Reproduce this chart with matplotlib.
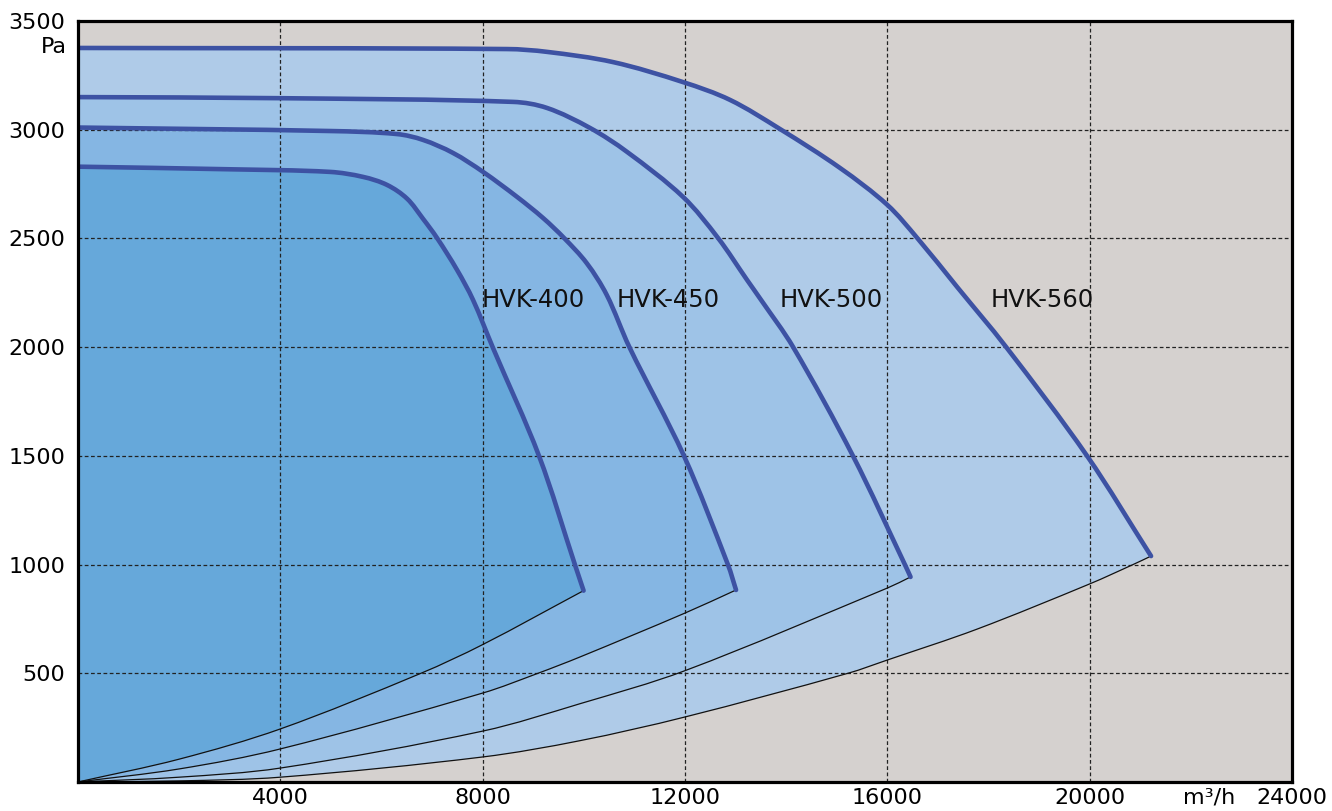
import numpy as np
import matplotlib.pyplot as plt
from matplotlib.path import Path
from matplotlib.patches import PathPatch

# fan curves (airflow m3/h, pressure Pa)
models = ['HVK-400', 'HVK-450', 'HVK-500', 'HVK-560']

q400 = [0, 3000, 4982, 5634, 6109, 6504, 6821, 7097, 7493, 7809, 8204, 9114, 9825, 9994]
p400 = [2830, 2818, 2806, 2783, 2746, 2683, 2590, 2502, 2355, 2217, 1996, 1499, 998, 880]

q450 = [0, 4982, 6306, 6821, 7414, 8007, 8679, 9193, 9608, 10057, 10452, 10900, 11980, 12850, 13008]
p450 = [3010, 2994, 2980, 2953, 2893, 2806, 2691, 2594, 2502, 2386, 2240, 2000, 1499, 998, 883]

q500 = [0, 4000, 8600, 9272, 10122, 10853, 11960, 12652, 13226, 13503, 14135, 15321, 16350, 16458]
p500 = [3150, 3145, 3128, 3100, 3008, 2898, 2691, 2502, 2309, 2217, 2001, 1499, 998, 943]

q560 = [0, 8481, 9272, 10577, 11960, 12890, 13878, 15064, 16000, 16590, 17378, 18346, 19947, 21213]
p560 = [3376, 3371, 3358, 3311, 3219, 3137, 3003, 2824, 2654, 2502, 2277, 2001, 1500, 1039]

# system curves from origin to the fan curve end points
sq400 = [0, 2000, 4000, 6780, 8000, 9994]
sp400 = [0, 105, 244, 500, 632, 880]

sq450 = [0, 2000, 4000, 8000, 9094, 9924, 12000, 13008]
sp450 = [0, 60, 152, 409, 500, 575, 777, 883]

sq500 = [0, 2000, 4000, 8000, 9924, 12000, 16000, 16458]
sp500 = [0, 22, 64, 234, 360, 512, 892, 943]

sq560 = [0, 2000, 4000, 8000, 9924, 12000, 15222, 16000, 17773, 20000, 20857, 21213]
sp560 = [0, 5, 22, 115, 190, 299, 500, 561, 703, 911, 1000, 1039]

label_pos = [(9000, 2217), (11660, 2217), (14890, 2217), (19060, 2217)]

fans = [(q400, p400), (q450, p450), (q500, p500), (q560, p560)]
systems = [(sq400, sp400), (sq450, sp450), (sq500, sp500), (sq560, sp560)]
fills = ['#66a8da', '#85b6e3', '#9ec3e7', '#afcbe8']

# rough pixel scale of the axes, used so the smoothing is not distorted
SX, SY = 1214 / 24000, 761 / 3500


def smooth(q, p):
    # bezier segments through the read points (tangent from neighbours)
    pts = np.column_stack([np.asarray(q, float) * SX, np.asarray(p, float) * SY])
    n = len(pts)
    tang = np.zeros_like(pts)
    for i in range(n):
        if i == 0:
            d = pts[1] - pts[0]
        elif i == n - 1:
            d = pts[-1] - pts[-2]
        else:
            d = pts[i + 1] - pts[i - 1]
        tang[i] = d / np.hypot(*d)
    verts = [pts[0]]
    codes = [Path.MOVETO]
    for i in range(n - 1):
        L = np.hypot(*(pts[i + 1] - pts[i])) / 3
        verts += [pts[i] + tang[i] * L, pts[i + 1] - tang[i + 1] * L, pts[i + 1]]
        codes += [Path.CURVE4] * 3
    verts = np.array(verts) / [SX, SY]
    return verts, codes


fig = plt.figure(figsize=(13.32, 8.11), dpi=100)
ax = fig.add_axes([0.0586, 0.0358, 0.9114, 0.9383])
ax.set_facecolor('#d5d1cf')

# biggest area first so the smaller ones sit on top
for i in [3, 2, 1, 0]:
    fv, fc = smooth(*fans[i])
    sv, sc = smooth(systems[i][0][::-1], systems[i][1][::-1])
    sc = [Path.LINETO] + sc[1:]
    verts = np.vstack([fv, sv, fv[:1]])
    codes = fc + sc + [Path.CLOSEPOLY]
    ax.add_patch(PathPatch(Path(verts, codes), facecolor=fills[i],
                           edgecolor='none', zorder=1))

for i in range(4):
    fv, fc = smooth(*fans[i])
    ax.add_patch(PathPatch(Path(fv, fc), facecolor='none', edgecolor='#3d52a3',
                           linewidth=3.3, zorder=4, capstyle='round', joinstyle='round'))
    sv, sc = smooth(*systems[i])
    ax.add_patch(PathPatch(Path(sv, sc), facecolor='none', edgecolor='#111111',
                           linewidth=0.9, zorder=3))
    ax.text(label_pos[i][0], label_pos[i][1], models[i], fontsize=17.5,
            ha='center', va='center', color='#111111', zorder=5)

ax.set_xlim(0, 24000)
ax.set_ylim(0, 3500)
ax.set_xticks([4000, 8000, 12000, 16000, 20000, 24000])
ax.set_yticks([500, 1000, 1500, 2000, 2500, 3000, 3500])
ax.tick_params(length=0, labelsize=16)
ax.tick_params(axis='y', pad=9)
ax.tick_params(axis='x', pad=4)

ax.set_axisbelow(False)
ax.grid(True, linestyle=(0, (3, 2)), linewidth=0.9, color='#222222')
for gl in ax.get_xgridlines() + ax.get_ygridlines():
    gl.set_zorder(2)

for s in ax.spines.values():
    s.set_linewidth(2.3)
    s.set_zorder(6)

ax.text(22360, -0.0075, 'm³/h', transform=ax.get_xaxis_transform(),
        ha='center', va='top', fontsize=16)
ax.text(-0.0092, 3380, 'Pa', transform=ax.get_yaxis_transform(),
        ha='right', va='center', fontsize=16)

plt.savefig('out.png', dpi=100)
